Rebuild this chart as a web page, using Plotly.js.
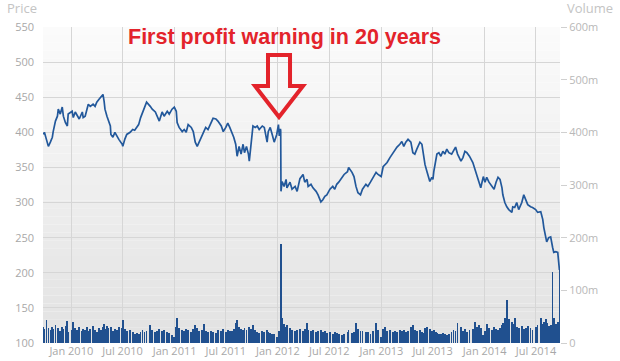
<!DOCTYPE html>
<html><head><meta charset="utf-8">
<script src="https://cdn.plot.ly/plotly-3.0.1.min.js"></script>
<style>html,body{margin:0;padding:0;background:#fff}#chart{width:620px;height:361px}</style>
</head><body><div id="chart"></div>
<script>
// ---- data ----
const dates = [
'2009-09-24','2009-09-28','2009-10-05','2009-10-12','2009-10-19','2009-10-26','2009-10-29','2009-11-06','2009-11-13','2009-11-16','2009-11-23','2009-11-30','2009-12-04','2009-12-11','2009-12-18','2009-12-21',
'2010-01-04','2010-01-08','2010-01-15','2010-01-22','2010-01-29','2010-02-09','2010-02-12','2010-02-19','2010-02-26','2010-03-02','2010-03-09','2010-03-19','2010-03-26','2010-04-01','2010-04-09','2010-04-16','2010-04-23','2010-04-27','2010-04-30','2010-05-07','2010-05-12','2010-05-19','2010-05-21','2010-05-28','2010-06-04','2010-06-11','2010-06-18','2010-06-30','2010-07-02','2010-07-09','2010-07-16','2010-07-28','2010-08-06','2010-08-13','2010-08-20','2010-08-27','2010-09-03','2010-09-10','2010-09-17','2010-09-24','2010-10-07','2010-10-14','2010-10-25','2010-11-01','2010-11-08','2010-11-18','2010-11-25','2010-12-06','2010-12-13','2010-12-23','2010-12-31',
'2011-01-07','2011-01-10','2011-01-17','2011-01-28','2011-02-04','2011-02-11','2011-02-18','2011-03-01','2011-03-08','2011-03-15','2011-03-22','2011-03-29','2011-04-08','2011-04-15','2011-04-21','2011-04-29','2011-05-10','2011-05-17','2011-05-27','2011-06-03','2011-06-15','2011-06-22','2011-07-01','2011-07-08','2011-07-15','2011-07-22','2011-07-29','2011-08-05','2011-08-10','2011-08-17','2011-08-24','2011-08-31','2011-09-05','2011-09-12','2011-09-19','2011-09-22','2011-09-28','2011-10-05','2011-10-13','2011-10-20','2011-10-27','2011-11-07','2011-11-14','2011-11-24','2011-11-28','2011-12-05','2011-12-12','2011-12-19','2011-12-28',
'2012-01-03','2012-01-06','2012-01-10','2012-01-11','2012-01-12','2012-01-16','2012-01-23','2012-01-30','2012-02-02','2012-02-13','2012-02-20','2012-03-02','2012-03-09','2012-03-19','2012-03-30','2012-04-05','2012-04-13','2012-04-17','2012-04-27','2012-05-04','2012-05-15','2012-05-22','2012-06-01','2012-06-08','2012-06-15','2012-06-22','2012-07-03','2012-07-13','2012-07-20','2012-07-27','2012-08-03','2012-08-15','2012-08-22','2012-09-03','2012-09-07','2012-09-19','2012-09-26','2012-10-03','2012-10-10','2012-10-19','2012-10-26','2012-11-07','2012-11-14','2012-11-23','2012-12-03','2012-12-13','2012-12-20','2012-12-31',
'2013-01-07','2013-01-14','2013-01-21','2013-01-31','2013-02-11','2013-02-18','2013-02-25','2013-03-07','2013-03-14','2013-03-21','2013-03-28','2013-04-05','2013-04-15','2013-04-22','2013-04-29','2013-05-06','2013-05-17','2013-05-24','2013-05-28','2013-06-04','2013-06-11','2013-06-21','2013-06-28','2013-07-02','2013-07-05','2013-07-12','2013-07-16','2013-07-23','2013-07-30','2013-08-06','2013-08-13','2013-08-20','2013-08-27','2013-09-06','2013-09-13','2013-09-20','2013-09-27','2013-10-09','2013-10-16','2013-10-23','2013-10-30','2013-11-08','2013-11-20','2013-11-27','2013-12-04','2013-12-11','2013-12-18','2013-12-27',
'2014-01-02','2014-01-08','2014-01-16','2014-01-27','2014-02-03','2014-02-10','2014-02-17','2014-02-24','2014-03-03','2014-03-06','2014-03-13','2014-03-20','2014-03-27','2014-04-07','2014-04-10','2014-04-17','2014-04-24','2014-05-01','2014-05-12','2014-05-19','2014-05-26','2014-06-02','2014-06-12','2014-06-19','2014-06-30','2014-07-07','2014-07-18','2014-07-25','2014-07-29','2014-08-05','2014-08-08','2014-08-15','2014-08-22','2014-08-29','2014-09-02','2014-09-09','2014-09-16','2014-09-22'
];
const price = [
397,400,390,380,386,393,401,416,423,433,426,436,423,414,409,426,
430,421,429,423,419,429,421,423,436,440,437,440,437,443,447,450,454,444,433,423,416,409,397,393,400,394,390,383,380,390,397,400,404,403,407,411,421,429,437,443,437,433,429,423,416,429,423,430,426,433,436,
430,414,407,401,404,400,411,407,401,386,380,386,394,401,407,404,414,420,419,416,409,401,407,413,407,400,393,383,366,380,369,383,371,380,369,359,383,409,407,409,404,409,407,386,401,407,397,386,397,
411,395,405,402,316,330,323,333,321,329,319,323,316,334,340,329,333,323,326,321,316,311,301,304,309,311,319,323,319,326,329,336,340,344,350,343,337,323,314,311,319,326,323,329,336,343,340,337,
351,354,357,364,371,376,379,383,387,380,386,390,386,371,369,376,386,383,371,354,344,330,336,333,344,359,369,371,366,373,369,376,371,369,374,379,369,359,364,373,371,366,357,347,340,330,321,337,
329,336,329,323,319,329,336,333,321,311,300,294,290,286,294,293,300,290,300,311,304,297,294,293,290,286,287,276,264,250,244,250,251,236,229,230,229,204
];
// volume in millions of shares
const volume = [
30,26,44,28,25,31,27,35,24,29,22,30,26,33,42,20,
24,40,28,25,30,22,27,24,31,23,26,33,25,21,29,24,30,36,27,33,28,25,30,22,26,24,31,29,44,27,23,25,20,18,19,17,21,24,20,22,34,25,21,23,26,22,24,20,19,16,12,
30,47,28,25,22,27,24,21,26,35,28,23,25,36,22,20,23,21,19,24,22,26,20,25,23,22,27,38,44,30,26,24,28,25,22,31,27,34,24,21,19,22,20,25,21,19,18,17,12,
20,22,25,28,188,47,36,30,34,28,25,22,24,27,23,26,38,25,22,24,21,23,25,20,22,19,21,18,20,19,17,16,18,20,24,19,21,38,26,23,22,20,21,18,22,38,24,12,
26,30,22,24,21,23,20,25,22,24,21,23,30,35,25,22,24,21,19,28,30,26,23,21,24,20,19,18,17,19,18,16,18,20,24,22,38,30,22,26,21,24,27,40,30,34,28,15,
22,36,28,25,30,26,24,29,34,38,47,82,45,40,36,47,30,28,32,26,29,33,28,25,30,34,47,36,40,45,38,32,35,135,48,36,40,140
];
const volTickVals = [0,100,200,300,400,500,600];
const volTickText = ['0','100m','200m','300m','400m','500m','600m'];
const priceTickVals = [100,150,200,250,300,350,400,450,500,550];
const annotationText = 'First profit warning in 20 years';

// ---- background gradient bands ----
const shapes = [];
const N = 40;
for (let i = 0; i < N; i++) {
  const t = i / (N - 1);
  const c = Math.round(251 - t * 25);
  shapes.push({type:'rect', xref:'paper', yref:'paper', x0:0, x1:1,
    y0: 1 - (i + 1) / N, y1: 1 - i / N, line:{width:0},
    fillcolor:`rgb(${c},${c},${c})`, layer:'below'});
}
// red hollow arrow
shapes.push({type:'path', xref:'paper', yref:'paper', layer:'above',
  path:'M 0.4352,0.9114 L 0.4778,0.9114 L 0.4778,0.8133 L 0.5029,0.8133 L 0.4565,0.7152 L 0.4101,0.8133 L 0.4352,0.8133 Z',
  line:{color:'#e3232b', width:4}, fillcolor:'rgba(0,0,0,0)'});

const traces = [
  {type:'bar', x:dates, y:volume, yaxis:'y2', marker:{color:'#20508f', line:{width:0}},
   width: 6*86400000, hoverinfo:'skip'},
  {type:'scatter', mode:'lines', x:dates, y:price, line:{color:'#22589b', width:1.7}}
];

const gray = '#a8a8a8';
const layout = {
  width:620, height:361,
  margin:{l:43, r:60, t:27, b:18},
  paper_bgcolor:'#ffffff', plot_bgcolor:'rgba(0,0,0,0)',
  showlegend:false,
  font:{family:'"Open Sans", "DejaVu Sans", sans-serif', size:11, color:gray},
  xaxis:{type:'date', range:['2009-09-23','2014-09-24'], tick0:'2010-01-01', dtick:'M6',
    tickformat:'%b %Y', showgrid:true, gridcolor:'#d6d6d6', gridwidth:1, zeroline:false,
    showline:false, ticks:'', tickfont:{size:11, color:gray}, automargin:false},
  yaxis:{range:[100,550], tickvals:priceTickVals, showgrid:true, gridcolor:'#d6d6d6',
    zeroline:false, showline:false, ticks:'', ticklabelstandoff:8,
    tickfont:{size:11, color:gray}, automargin:false},
  yaxis2:{overlaying:'y', side:'right', range:[0,600], tickvals:volTickVals, ticktext:volTickText,
    showgrid:false, zeroline:false, showline:false, ticks:'outside', ticklen:6, tickcolor:'#d0d0d0',
    tickfont:{size:11, color:'#b8b8b8'}, automargin:false},
  shapes:shapes,
  bargap:0,
  annotations:[
    {xref:'paper', yref:'paper', x:-0.0735, y:1.06, xanchor:'left', yanchor:'middle', showarrow:false,
     text:'Price', font:{size:13, color:'#c4c4c4'}},
    {xref:'paper', yref:'paper', x:1.106, y:1.06, xanchor:'right', yanchor:'middle', showarrow:false,
     text:'Volume', font:{size:13, color:'#c4c4c4'}},
    {xref:'paper', yref:'paper', x:0.4662, y:0.968, xanchor:'center', yanchor:'middle', showarrow:false,
     text:'<b>'+annotationText+'</b>', font:{family:'"Liberation Sans", Arial, sans-serif', size:21.5, color:'#e3232b'}}
  ]
};
Plotly.newPlot('chart', traces, layout, {staticPlot:true, displayModeBar:false});
</script></body></html>
